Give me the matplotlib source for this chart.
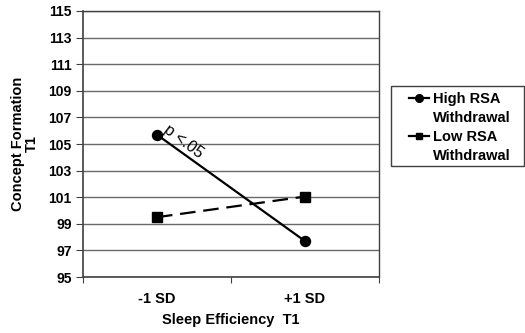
import matplotlib
matplotlib.use("Agg")
import matplotlib.pyplot as plt
from matplotlib.ticker import FixedLocator, NullFormatter
from matplotlib.lines import Line2D
from matplotlib.patches import Rectangle

plt.rcParams['font.family'] = ['Liberation Sans', 'DejaVu Sans']

categories = ["-1 SD", "+1 SD"]
high_rsa = [105.7, 97.7]
low_rsa = [99.5, 101.05]
series_labels = [("High RSA", "Withdrawal"), ("Low RSA", "Withdrawal")]
y_ticks = list(range(95, 116, 2))

W, H = 525, 333
fig = plt.figure(figsize=(W / 100, H / 100), dpi=100)
ax = fig.add_axes([0.158, 0.168, 0.564, 0.799])

x = [0.5, 1.5]
h1, = ax.plot(x, high_rsa, color='black', lw=1.6, marker='o', ms=7.2, zorder=3)
h2, = ax.plot(x, low_rsa, color='black', lw=1.6, marker='s', ms=6.5, dashes=(7, 3.5), zorder=3)

ax.set_xlim(0, 2)
ax.set_ylim(95, 115)
ax.set_yticks(y_ticks)
ax.set_yticklabels([str(t) for t in y_ticks], fontsize=10, fontweight='bold')
ax.yaxis.grid(True, color='#6a6a6a', lw=1)
ax.set_axisbelow(True)

ax.xaxis.set_major_locator(FixedLocator([0, 1, 2]))
ax.xaxis.set_major_formatter(NullFormatter())
ax.set_xticks(x, minor=True)
ax.set_xticklabels(categories, minor=True, fontsize=10.5, fontweight='bold')
ax.tick_params(axis='x', which='minor', length=0, pad=11)
ax.tick_params(axis='x', which='major', length=4, direction='out', color='#404040')
ax.tick_params(axis='y', length=5, direction='out', color='#404040', pad=3)

for s in ['left', 'bottom']:
    ax.spines[s].set_color('#404040')
    ax.spines[s].set_linewidth(1.2)
for s in ['top', 'right']:
    ax.spines[s].set_color('#404040')
    ax.spines[s].set_linewidth(1.0)

ax.set_xlabel("Sleep Efficiency  T1", fontsize=10.5, fontweight='bold', labelpad=5)
ax.set_ylabel("Concept Formation\nT1", fontsize=10.5, fontweight='bold', labelpad=7, linespacing=0.95)

ax.text(0.555, high_rsa[0] + 0.5, "p <.05", fontsize=11.5, rotation=-37, rotation_mode='anchor',
        ha='left', va='center')

# legend: each series label split into two rows, handle on the first row
blank = Line2D([], [], linestyle='none', marker='none')
lh1 = Line2D([], [], color='black', lw=1.6, marker='o', ms=5.5)
lh2 = Line2D([], [], color='black', lw=1.6, marker='s', ms=5)
handles = [lh1, blank, lh2, blank]
labels = [series_labels[0][0], series_labels[0][1], series_labels[1][0], series_labels[1][1]]
leg = fig.legend(handles, labels, loc='upper left',
                 bbox_to_anchor=(405 / W, 1 - 88 / H), bbox_transform=fig.transFigure,
                 prop={'weight': 'bold', 'size': 10.5}, frameon=False,
                 handlelength=1.35, handletextpad=0.3, borderpad=0.3,
                 labelspacing=0.33, borderaxespad=0)
fig.add_artist(Rectangle((391 / W, 1 - 166 / H), (524 - 391) / W, (166 - 86) / H,
                         transform=fig.transFigure, fill=False, edgecolor='#404040', lw=1.0))

fig.savefig("out.png", dpi=100)
